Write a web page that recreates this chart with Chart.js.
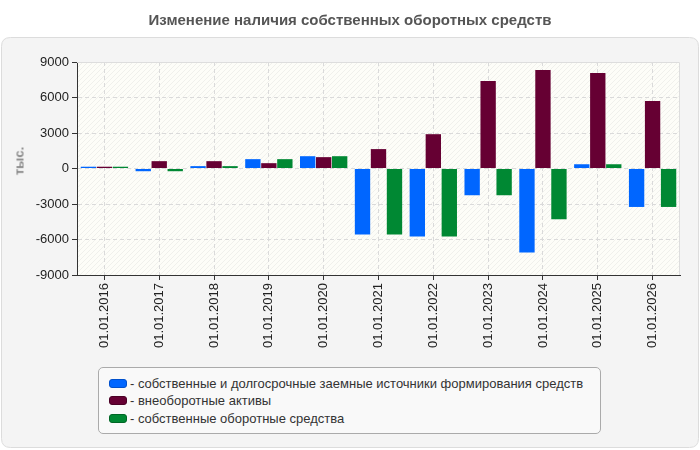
<!DOCTYPE html>
<html><head><meta charset="utf-8">
<script src="https://cdn.jsdelivr.net/npm/chart.js@4/dist/chart.umd.min.js"></script>
<style>
html,body{margin:0;padding:0;background:#fff;}
#wrap{position:relative;width:700px;height:450px;font-family:"Liberation Sans",Arial,sans-serif;}
#wrap canvas{position:absolute;left:0;top:0;}
#title{position:absolute;left:0;top:11px;width:700px;text-align:center;font-weight:bold;font-size:15px;color:#555;line-height:18px;}
#ytitle{position:absolute;left:19px;top:161px;transform:translate(-50%,-50%) rotate(-90deg);font-weight:bold;font-size:13px;color:#888;white-space:nowrap;}
#legend{position:absolute;left:98px;top:367px;width:503px;height:67px;border:1px solid #aaa;border-radius:5px;background:#f9f9f9;box-sizing:border-box;padding-top:7px;}
.item{height:17.3px;display:flex;align-items:center;font-size:13px;color:#333;padding-left:10px;white-space:nowrap;}
.sw{width:16px;height:7px;border-radius:3px;margin-right:3px;border:1px solid;}
</style>
</head><body>
<div id="wrap">
<canvas id="c" width="700" height="450"></canvas>
<div id="title"></div>
<div id="ytitle"></div>
<div id="legend"></div>
</div>
<script>
const chartTitle = 'Изменение наличия собственных оборотных средств';
const yAxisTitle = 'тыс.';
const categories = ['01.01.2016','01.01.2017','01.01.2018','01.01.2019','01.01.2020','01.01.2021','01.01.2022','01.01.2023','01.01.2024','01.01.2025','01.01.2026'];
const seriesNames = ['собственные и долгосрочные заемные источники формирования средств','внеоборотные активы','собственные оборотные средства'];
const sourcesValues = [150,-230,200,790,1040,-5570,-5740,-2260,-7090,360,-3250];
const nonCurrentValues = [150,620,620,450,960,1640,2900,7390,8330,8080,5700];
const workingCapitalValues = [150,-230,200,790,1040,-5570,-5740,-2260,-4290,360,-3250];
const yTicks = [-9000,-6000,-3000,0,3000,6000,9000];
const colors = ['#0066ff','#660033','#008833'];
const borderColors = ['#0050cc','#4a0025','#006625'];

document.getElementById('title').textContent = chartTitle;
document.getElementById('ytitle').textContent = yAxisTitle;
const lg = document.getElementById('legend');
seriesNames.forEach((n,i)=>{
  const d=document.createElement('div');d.className='item';
  const s=document.createElement('span');s.className='sw';s.style.background=colors[i];s.style.borderColor=borderColors[i];
  d.appendChild(s);d.appendChild(document.createTextNode('- '+n));lg.appendChild(d);
});

function makePattern(){
  const p=document.createElement('canvas');p.width=5;p.height=5;
  const g=p.getContext('2d');
  g.fillStyle='#fdfdf8';g.fillRect(0,0,5,5);
  g.strokeStyle='#f0f0ec';g.lineWidth=1;
  g.beginPath();g.moveTo(-1,6);g.lineTo(6,-1);g.stroke();
  return p;
}
function rr(ctx,x,y,w,h,r){ctx.beginPath();ctx.moveTo(x+r,y);ctx.lineTo(x+w-r,y);ctx.quadraticCurveTo(x+w,y,x+w,y+r);ctx.lineTo(x+w,y+h-r);ctx.quadraticCurveTo(x+w,y+h,x+w-r,y+h);ctx.lineTo(x+r,y+h);ctx.quadraticCurveTo(x,y+h,x,y+h-r);ctx.lineTo(x,y+r);ctx.quadraticCurveTo(x,y,x+r,y);ctx.closePath();}

const bgPlugin = {
  id:'bg',
  beforeDraw(chart){
    const ctx=chart.ctx, a=chart.chartArea;
    ctx.save();
    rr(ctx,1.5,37.5,697,410,9);
    ctx.fillStyle='#f4f4f4';ctx.fill();ctx.strokeStyle='#dcdcdc';ctx.lineWidth=1;ctx.stroke();
    ctx.fillStyle=ctx.createPattern(makePattern(),'repeat');
    ctx.fillRect(a.left,a.top,a.right-a.left,a.bottom-a.top);
    ctx.restore();
  },
  beforeDatasetsDraw(chart){
    const ctx=chart.ctx, a=chart.chartArea;
    ctx.save();ctx.strokeStyle='#dddddd';ctx.lineWidth=1;
    ctx.beginPath();ctx.moveTo(a.left,a.top+0.5);ctx.lineTo(a.right-0.5,a.top+0.5);ctx.lineTo(a.right-0.5,a.bottom);ctx.stroke();
    ctx.restore();
  }
};

new Chart(document.getElementById('c'),{
  type:'bar',
  data:{labels:categories,datasets:[
    {label:seriesNames[0],data:sourcesValues,backgroundColor:colors[0]},
    {label:seriesNames[1],data:nonCurrentValues,backgroundColor:colors[1]},
    {label:seriesNames[2],data:workingCapitalValues,backgroundColor:colors[2]}
  ]},
  options:{
    responsive:false,animation:false,
    layout:{padding:{left:0,top:62,right:20,bottom:0}},
    datasets:{bar:{categoryPercentage:0.875,barPercentage:0.96}},
    plugins:{legend:{display:false},title:{display:false},tooltip:{enabled:false}},
    scales:{
      x:{
        grid:{offset:false,color:'#dadada',tickColor:'#333',tickLength:5,drawOnChartArea:true},
        border:{display:true,color:'#333',dash:[4,3]},
        ticks:{minRotation:90,maxRotation:90,color:'#222',font:{size:13,family:'"Liberation Sans", Arial'},padding:3,autoSkip:false},
        afterFit(s){s.height=175;}
      },
      y:{
        min:-9000,max:9000,
        afterBuildTicks(s){s.ticks=yTicks.map(v=>({value:v}));},
        grid:{color:'#dadada',tickColor:'#333',tickLength:5},
        border:{display:true,color:'#333',dash:[4,3]},
        ticks:{color:'#222',font:{size:13,family:'"Liberation Sans", Arial'},padding:3,callback:(v)=>String(v)},
        afterFit(s){s.width=77;}
      }
    }
  },
  plugins:[bgPlugin]
});
</script>
</body></html>
